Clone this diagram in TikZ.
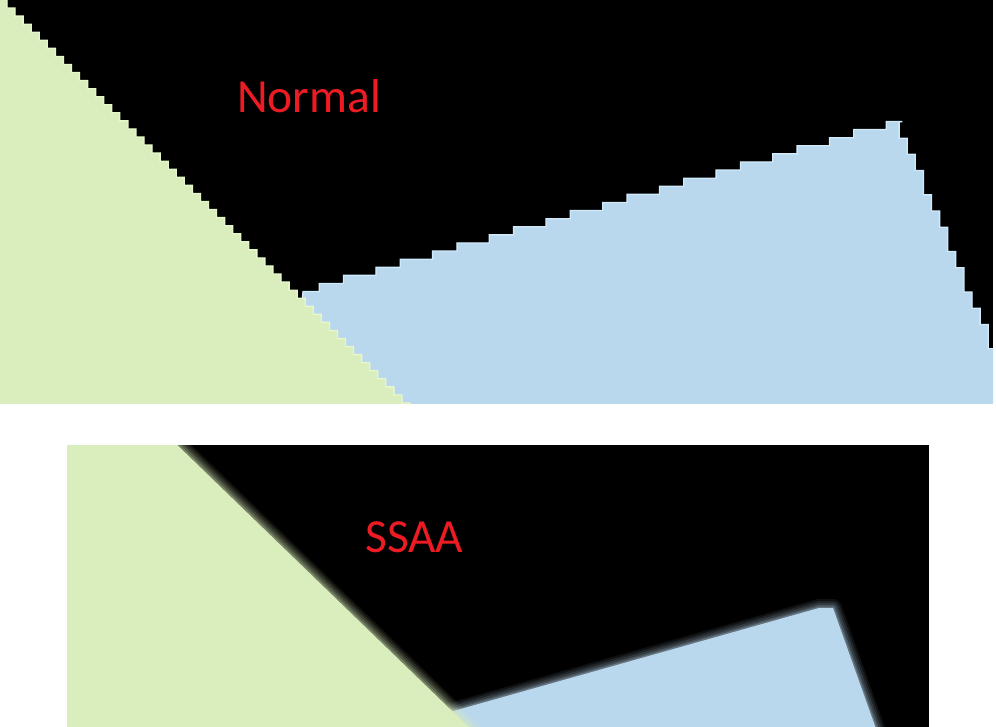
\documentclass[tikz,border=0pt]{standalone}
\usepackage{fontspec}
\setmainfont{Carlito}

\definecolor{grassfill}{HTML}{DAEDBC}
\definecolor{grassrim}{HTML}{E8F8CC}
\definecolor{skyfill}{HTML}{BAD8ED}
\definecolor{skyrim}{HTML}{D0EAFB}
\definecolor{lblred}{HTML}{ED1C24}

\begin{document}
\begin{tikzpicture}[x=1pt, y=-1pt,
  lbl/.style={text=lblred, inner sep=0pt, anchor=base west, font=\fontsize{47.5}{56}\selectfont},
  rim/.style={line width=1.3pt, line join=miter}
]
  \useasboundingbox (0,0) rectangle (996,727);

  % aliased panel
  \begin{scope}
    \clip (0,0) rectangle (993,403);
    \fill[black] (0,0) rectangle (993,403);
    \filldraw[skyfill, draw=skyrim, rim] (303,292)
      \foreach \i [evaluate=\i as \xa using 303+\i*8.1,
                   evaluate=\i as \ya using 8.1*round((292-(\i+0.5)*8.1*0.2862)/8.1)] in {0,...,73}
        { -- (\xa,\ya) -- (\xa+8.1,\ya) }
      \foreach \j [evaluate=\j as \yb using 122+\j*8.1,
                   evaluate=\j as \xb using 8.1*round((897+(\j+0.5)*8.1*0.4267)/8.1)] in {0,...,36}
        { -- (\xb,\yb) -- (\xb,\yb+8.1) }
      -- (1040,420) -- (290,420) -- cycle;
    \filldraw[grassfill, draw=grassrim, rim] (-5,-5) -- (7,-5) -- (7,0)
      \foreach \k in {1,...,50} { -- ++(0,8.06) -- ++(8.06,0) }
      -- (420,420) -- (-5,420) -- cycle;
  \end{scope}
  \node[lbl] (lblnormal) at (237,113) {Normal};

  % supersampled panel
  \begin{scope}
    \clip (67,445) rectangle (929,727);
    \fill[black] (67,445) rectangle (929,727);
    \def\skypath{(450,712) -- (819,608) -- (833,608) -- (880,740) -- (440,750) -- cycle}
    \foreach \w/\o in {18/0.08, 14/0.1, 10/0.13, 6/0.17, 3/0.25}
      \draw[skyfill, line width=\w pt, opacity=\o, line join=round] \skypath;
    \fill[skyfill] \skypath;
    \def\grasspath{(60,438) -- (170,438) -- (480,738) -- (60,738) -- cycle}
    \foreach \w/\o in {20/0.08, 16/0.1, 12/0.13, 8/0.17, 4/0.25}
      \draw[grassfill, line width=\w pt, opacity=\o, line join=round] \grasspath;
    \fill[grassfill] \grasspath;
  \end{scope}
  \node[lbl] (lblssaa) at (365,552) {SSAA};
\end{tikzpicture}
\end{document}
